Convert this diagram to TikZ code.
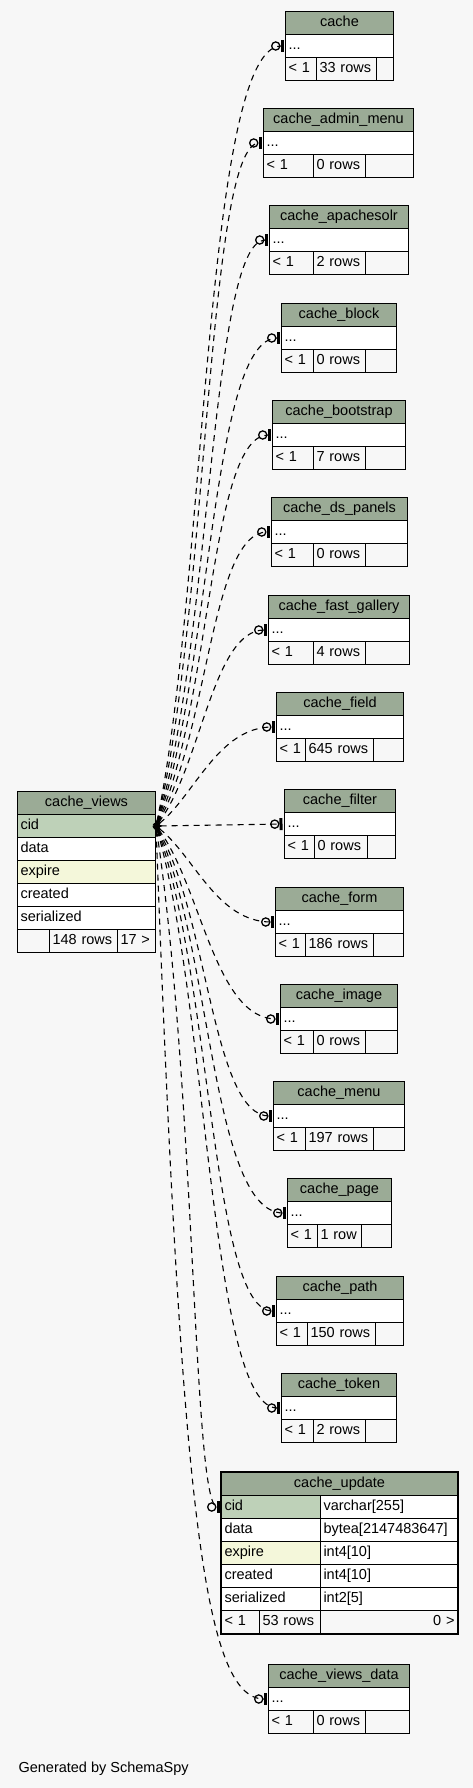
\documentclass[tikz,border=0pt]{standalone}
\usepackage{fontspec}
\setmainfont{Liberation Sans}
\usetikzlibrary{arrows.meta,fit}
\definecolor{spyhead}{RGB}{155,171,150}
\definecolor{spykey}{RGB}{190,209,184}
\definecolor{spyindex}{RGB}{244,247,218}
\definecolor{spypage}{RGB}{247,247,247}
\tikzset{
  cell/.style={
    draw=black,
    line width=1pt,
    fill=white,
    anchor=north west,
    inner xsep=3pt,
    inner ysep=0pt,
    minimum height=23pt,
    text height=10.5pt,
    text depth=3pt,
    align=left,
    font=\fontsize{14.5}{16}\selectfont
  },
  headcell/.style={cell, fill=spyhead, align=center},
  keycell/.style={cell, fill=spykey},
  idxcell/.style={cell, fill=spyindex},
  footcell/.style={cell, fill=spypage},
  rel/.style={
    line width=1.1pt,
    dash pattern=on 6pt off 5pt,
    shorten >=1.5pt,
    {Latex[reversed,length=7pt,width=7pt]}-{Circle[open,length=9.5pt,width=9.5pt,line width=1.3pt] Bar[width=12pt,line width=3pt]}
  },
  outline/.style={draw=black, line width=2.6pt, inner sep=0pt}
}
% stub table: name, left, top, right, first divider, second divider, rows
\newcommand{\stubtable}[7]{%
  \node[headcell, text width=#4-#2-6] (#1) at (#2,#3) {\detokenize{#1}};
  \node[cell, text width=#4-#2-6] (#1-row) at (#2,#3+23) {...};
  \node[footcell, text width=#5-#2-6] (#1-f1) at (#2,#3+46) {< 1};
  \node[footcell, text width=#6-#5-6] (#1-f2) at (#5,#3+46) {#7};
  \node[footcell, text width=#4-#6-6] (#1-f3) at (#6,#3+46) {};
}

\begin{document}
\begin{tikzpicture}[x=1pt,y=-1pt]
  \fill[spypage] (0,0) rectangle (473,1788);

  % referenced table
  \node[headcell, text width=132] (cache_views) at (17,791) {cache\_views};
  \node[keycell, text width=132] (cache_views-cid) at (17,814) {cid};
  \node[cell, text width=132] (cache_views-data) at (17,837) {data};
  \node[idxcell, text width=132] (cache_views-expire) at (17,860) {expire};
  \node[cell, text width=132] (cache_views-created) at (17,883) {created};
  \node[cell, text width=132] (cache_views-serialized) at (17,906) {serialized};
  \node[footcell, text width=26] (cache_views-f1) at (17,929) {};
  \node[footcell, text width=62] (cache_views-f2) at (49,929) {148 rows};
  \node[footcell, text width=32] (cache_views-f3) at (117,929) {17 >};

  % tables that point at it
  \stubtable{cache}{285}{11}{393}{316}{376}{33 rows}
  \stubtable{cache_admin_menu}{263}{108}{413}{313}{365}{0 rows}
  \stubtable{cache_apachesolr}{269}{205}{408}{313}{365}{2 rows}
  \stubtable{cache_block}{281}{303}{396}{313}{365}{0 rows}
  \stubtable{cache_bootstrap}{272}{400}{405}{313}{365}{7 rows}
  \stubtable{cache_ds_panels}{271}{497}{407}{313}{365}{0 rows}
  \stubtable{cache_fast_gallery}{268}{595}{409}{313}{365}{4 rows}
  \stubtable{cache_field}{276}{692}{403}{305}{373}{645 rows}
  \stubtable{cache_filter}{284}{789}{395}{314}{367}{0 rows}
  \stubtable{cache_form}{275}{887}{403}{305}{373}{186 rows}
  \stubtable{cache_image}{280}{984}{397}{313}{365}{0 rows}
  \stubtable{cache_menu}{273}{1081}{404}{305}{373}{197 rows}
  \stubtable{cache_page}{287}{1178}{391}{317}{361}{1 row}
  \stubtable{cache_path}{276}{1276}{403}{307}{375}{150 rows}
  \stubtable{cache_token}{281}{1373}{396}{313}{365}{2 rows}
  \stubtable{cache_views_data}{268}{1664}{409}{313}{365}{0 rows}

  % cache_update, shown in full
  \node[headcell, text width=230] (cache_update) at (221,1472) {cache\_update};
  \node[keycell, text width=93] (cache_update-cid) at (221,1495) {cid};
  \node[cell, text width=131] (cache_update-cidtype) at (320,1495) {varchar[255]};
  \node[cell, text width=93] (cache_update-data) at (221,1518) {data};
  \node[cell, text width=131] (cache_update-datatype) at (320,1518) {bytea[2147483647]};
  \node[idxcell, text width=93] (cache_update-expire) at (221,1541) {expire};
  \node[cell, text width=131] (cache_update-expiretype) at (320,1541) {int4[10]};
  \node[cell, text width=93] (cache_update-created) at (221,1564) {created};
  \node[cell, text width=131] (cache_update-createdtype) at (320,1564) {int4[10]};
  \node[cell, text width=93] (cache_update-serialized) at (221,1587) {serialized};
  \node[cell, text width=131] (cache_update-serializedtype) at (320,1587) {int2[5]};
  \node[footcell, text width=32] (cache_update-f1) at (221,1610) {< 1};
  \node[footcell, text width=55] (cache_update-f2) at (259,1610) {53 rows};
  \node[footcell, text width=131, align=right] (cache_update-f3) at (320,1610) {0 >};
  \node[outline, fit=(cache_update)(cache_update-f3)] (cache_update-box) {};

  % relations
  \draw[rel] (cache_views-cid.east) .. controls +(50,-240) and +(-80,0) .. (cache-row.west);
  \draw[rel] (cache_views-cid.east) .. controls +(52,-210) and +(-56,0) .. (cache_admin_menu-row.west);
  \draw[rel] (cache_views-cid.east) .. controls +(55,-180) and +(-58,0) .. (cache_apachesolr-row.west);
  \draw[rel] (cache_views-cid.east) .. controls +(55,-150) and +(-70,0) .. (cache_block-row.west);
  \draw[rel] (cache_views-cid.east) .. controls +(55,-120) and +(-62,0) .. (cache_bootstrap-row.west);
  \draw[rel] (cache_views-cid.east) .. controls +(52,-90) and +(-60,0) .. (cache_ds_panels-row.west);
  \draw[rel] (cache_views-cid.east) .. controls +(45,-60) and +(-55,0) .. (cache_fast_gallery-row.west);
  \draw[rel] (cache_views-cid.east) .. controls +(38,-30) and +(-58,0) .. (cache_field-row.west);
  \draw[rel] (cache_views-cid.east) -- (cache_filter-row.west);
  \draw[rel] (cache_views-cid.east) .. controls +(38,30) and +(-58,0) .. (cache_form-row.west);
  \draw[rel] (cache_views-cid.east) .. controls +(45,60) and +(-65,0) .. (cache_image-row.west);
  \draw[rel] (cache_views-cid.east) .. controls +(52,90) and +(-60,0) .. (cache_menu-row.west);
  \draw[rel] (cache_views-cid.east) .. controls +(55,120) and +(-75,0) .. (cache_page-row.west);
  \draw[rel] (cache_views-cid.east) .. controls +(55,150) and +(-64,0) .. (cache_path-row.west);
  \draw[rel] (cache_views-cid.east) .. controls +(52,180) and +(-70,0) .. (cache_token-row.west);
  \draw[rel] (cache_views-cid.east) .. controls +(40,270) and +(-28,0) .. (cache_update-cid.west);
  \draw[rel] (cache_views-cid.east) .. controls +(25,675) and +(-65,0) .. (cache_views_data-row.west);

  \node[anchor=west, font=\fontsize{14.5}{16}\selectfont] (credit) at (15,1769) {Generated by SchemaSpy};
\end{tikzpicture}
\end{document}
